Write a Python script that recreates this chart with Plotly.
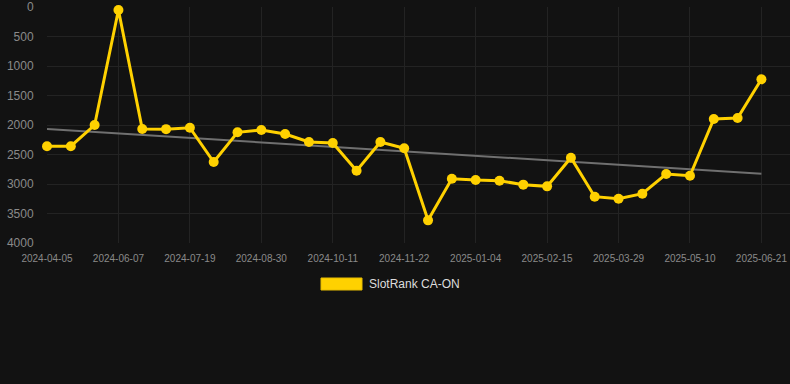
import plotly.graph_objects as go

dates = [
    "2024-04-05", "2024-04-26", "2024-05-17", "2024-06-07", "2024-06-21", "2024-07-05",
    "2024-07-19", "2024-08-02", "2024-08-16", "2024-08-30", "2024-09-13", "2024-09-27",
    "2024-10-11", "2024-10-25", "2024-11-08", "2024-11-22", "2024-12-06", "2024-12-20",
    "2025-01-04", "2025-01-18", "2025-02-01", "2025-02-15", "2025-03-01", "2025-03-15",
    "2025-03-29", "2025-04-12", "2025-04-26", "2025-05-10", "2025-05-24", "2025-06-07",
    "2025-06-21",
]
rank = [
    2360, 2360, 2000, 50, 2068, 2070, 2046, 2627, 2124, 2085, 2153, 2288, 2305, 2775,
    2288, 2395, 3616, 2910, 2932, 2944, 3011, 3040, 2554, 3215, 3249, 3164, 2831, 2860,
    1898, 1881, 1226,
]
trend_dates = [dates[0], dates[-1]]
trend_values = [2068, 2826]
tick_labels = dates[::3]
y_ticks = [0, 500, 1000, 1500, 2000, 2500, 3000, 3500, 4000]
series_name = "SlotRank CA-ON"

YELLOW = "#FFD100"
BG = "#121212"
GRID = "#232323"
TICK = "#8a8a8a"

fig = go.Figure()
fig.add_trace(go.Scatter(
    x=trend_dates, y=trend_values, mode="lines",
    line=dict(color="#707070", width=2), showlegend=False, hoverinfo="skip",
))
fig.add_trace(go.Scatter(
    x=dates, y=rank, mode="lines+markers", name=series_name,
    line=dict(color=YELLOW, width=3),
    marker=dict(color=YELLOW, size=10),
    cliponaxis=False, showlegend=False,
))

fig.update_layout(
    width=790, height=384,
    paper_bgcolor=BG, plot_bgcolor=BG,
    margin=dict(l=47, r=0, t=7, b=141),
    font=dict(family="Liberation Sans, Arial, sans-serif", color=TICK),
    showlegend=False,
    xaxis=dict(
        type="category", categoryorder="array", categoryarray=dates,
        range=[0, 31.2],
        tickmode="array", tickvals=tick_labels, ticktext=tick_labels,
        showgrid=True, gridcolor=GRID, gridwidth=1,
        zeroline=False, showline=False,
        ticks="outside", ticklen=6, tickcolor="rgba(0,0,0,0)",
        tickfont=dict(size=10, color=TICK),
    ),
    yaxis=dict(
        range=[4000, 0],
        tickmode="array", tickvals=y_ticks,
        showgrid=True, gridcolor=GRID, gridwidth=1,
        zeroline=False, showline=False,
        ticks="outside", ticklen=10, tickcolor="rgba(0,0,0,0)",
        tickfont=dict(size=12, color=TICK),
    ),
    shapes=[dict(
        type="rect", xref="paper", yref="paper",
        x0=(321 - 47) / 743, x1=(362 - 47) / 743,
        y0=(243 - 290) / 236, y1=(243 - 278) / 236,
        fillcolor=YELLOW, line=dict(color="#E6BC00", width=1),
    )],
    annotations=[dict(
        text=series_name, xref="paper", yref="paper",
        x=(367 - 47) / 743, y=(243 - 284) / 236,
        xanchor="left", yanchor="middle", showarrow=False,
        font=dict(size=12, color="#dddddd"),
    )],
)

fig.write_html(
    "out.html",
    config={"displayModeBar": False},
    post_script="document.body.style.margin='0';document.body.style.background='#121212';",
)
